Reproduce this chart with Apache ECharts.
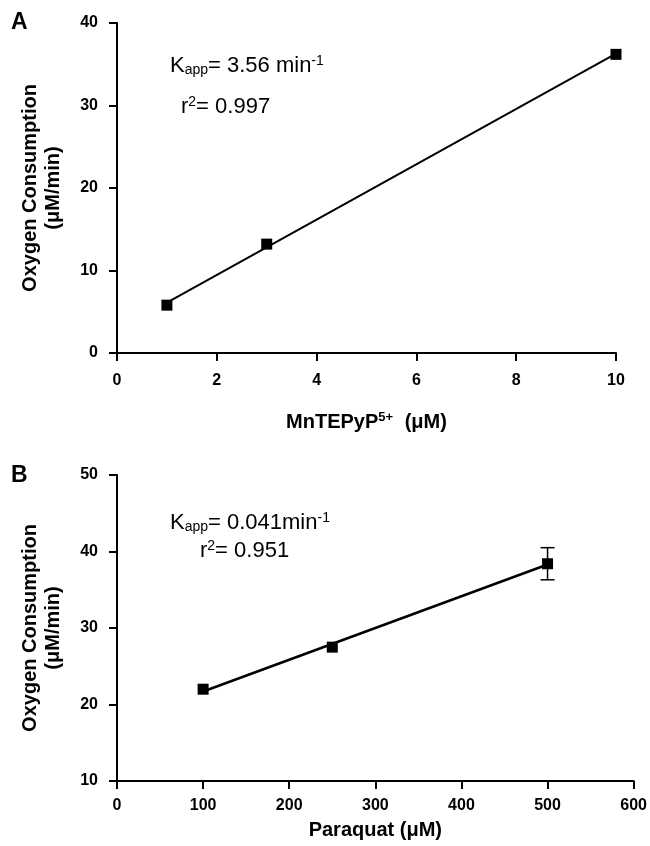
<!DOCTYPE html>
<html><head><meta charset="utf-8">
<script src="https://cdn.jsdelivr.net/npm/echarts@6/dist/echarts.min.js"></script>
<style>html,body{margin:0;padding:0;background:#fff}#c{width:650px;height:846px}</style>
</head><body><div id="c"></div>
<script>
// Panel A data
const concA = [1, 3, 10];
const oxyA = [5.8, 13.2, 36.2];
const fitAx = [1, 10];
const fitAy = [6.1, 36.3];
// Panel B data
const concB = [100, 250, 500];
const oxyB = [22.0, 27.5, 38.4];
const errB = [0, 0, 2.1];
const fitBx = [100, 500];
const fitBy = [21.7, 38.3];

const FONT = "'Liberation Sans', Arial, sans-serif";
const chart = echarts.init(document.getElementById('c'), null, {renderer: 'canvas'});

function axisCommon(margin) {
  return {
    axisLine: {show: true, onZero: false, lineStyle: {color: '#000', width: 2}},
    axisTick: {show: true, inside: false, length: 8, lineStyle: {color: '#000', width: 2}},
    axisLabel: {color: '#000', fontWeight: 'bold', fontSize: 16, fontFamily: FONT, margin: margin},
    splitLine: {show: false}
  };
}
const nameStyle = {color: '#000', fontWeight: 'bold', fontSize: 20, fontFamily: FONT, lineHeight: 23,
  rich: {sup: {fontSize: 13, fontWeight: 'bold', color: '#000', fontFamily: FONT, verticalAlign: 'top', padding: [0, 6, 10, 0]}}};

function pairs(xs, ys) { return xs.map((x, i) => [x, ys[i]]); }

const supS = {fontSize: 14, fontFamily: FONT, verticalAlign: 'top', padding: [0, 0, 9, 0]};
const subS = {fontSize: 14, fontFamily: FONT, verticalAlign: 'bottom', padding: [9, 0, 0, 0]};

const option = {
  animation: false,
  backgroundColor: '#fff',
  grid: [
    {left: 117, right: 34, top: 23, bottom: 493, containLabel: false},
    {left: 117, right: 14, top: 475, bottom: 65, containLabel: false}
  ],
  xAxis: [
    Object.assign(axisCommon(20), {gridIndex: 0, type: 'value', min: 0, max: 10, interval: 2,
      name: 'MnTEPyP{sup|5+} (μM)', nameLocation: 'middle', nameGap: 58, nameTextStyle: nameStyle}),
    Object.assign(axisCommon(17), {gridIndex: 1, type: 'value', min: 0, max: 600, interval: 100,
      name: 'Paraquat (μM)', nameLocation: 'middle', nameGap: 38, nameTextStyle: nameStyle})
  ],
  yAxis: [
    Object.assign(axisCommon(19), {gridIndex: 0, type: 'value', min: 0, max: 40, interval: 10,
      name: 'Oxygen Consumption\n(μM/min)', nameLocation: 'middle', nameGap: 52, nameRotate: 90, nameTextStyle: nameStyle}),
    Object.assign(axisCommon(19), {gridIndex: 1, type: 'value', min: 10, max: 50, interval: 10,
      name: 'Oxygen Consumption\n(μM/min)', nameLocation: 'middle', nameGap: 52, nameRotate: 90, nameTextStyle: nameStyle})
  ],
  series: [
    {type: 'line', xAxisIndex: 0, yAxisIndex: 0, data: pairs(fitAx, fitAy), symbol: 'none',
      lineStyle: {color: '#000', width: 2}, z: 2},
    {type: 'scatter', xAxisIndex: 0, yAxisIndex: 0, data: pairs(concA, oxyA), symbol: 'rect', symbolSize: 11,
      itemStyle: {color: '#000', opacity: 1}, z: 4},
    {type: 'line', xAxisIndex: 1, yAxisIndex: 1, data: pairs(fitBx, fitBy), symbol: 'none',
      lineStyle: {color: '#000', width: 2.5}, z: 2},
    {type: 'custom', xAxisIndex: 1, yAxisIndex: 1, z: 3,
      data: concB.map((x, i) => [x, oxyB[i], errB[i]]),
      encode: {x: 0, y: 1},
      renderItem: function (params, api) {
        const x = api.value(0), y = api.value(1), e = api.value(2);
        if (!e) return null;
        const t = api.coord([x, y + e]), b = api.coord([x, y - e]);
        const hw = 7, st = {stroke: '#000', lineWidth: 1.5};
        return {type: 'group', children: [
          {type: 'line', shape: {x1: t[0], y1: t[1], x2: b[0], y2: b[1]}, style: st},
          {type: 'line', shape: {x1: t[0] - hw, y1: t[1], x2: t[0] + hw, y2: t[1]}, style: st},
          {type: 'line', shape: {x1: b[0] - hw, y1: b[1], x2: b[0] + hw, y2: b[1]}, style: st}
        ]};
      }},
    {type: 'scatter', xAxisIndex: 1, yAxisIndex: 1, data: pairs(concB, oxyB), symbol: 'rect', symbolSize: 11,
      itemStyle: {color: '#000', opacity: 1}, z: 4}
  ],
  graphic: [
    {type: 'text', left: 11, top: 11, style: {text: 'A', font: 'bold 23px ' + FONT, fill: '#000'}},
    {type: 'text', left: 11, top: 464, style: {text: 'B', font: 'bold 23px ' + FONT, fill: '#000'}},
    {type: 'text', left: 170, top: 54, style: {text: 'K{sub|app}= 3.56 min{sup|-1}', font: '22px ' + FONT, fill: '#000',
      rich: {sub: subS, sup: supS}}},
    {type: 'text', left: 181, top: 95, style: {text: 'r{sup|2}= 0.997', font: '22px ' + FONT, fill: '#000',
      rich: {sup: supS}}},
    {type: 'text', left: 170, top: 511, style: {text: 'K{sub|app}= 0.041min{sup|-1}', font: '22px ' + FONT, fill: '#000',
      rich: {sub: subS, sup: supS}}},
    {type: 'text', left: 200, top: 539, style: {text: 'r{sup|2}= 0.951', font: '22px ' + FONT, fill: '#000',
      rich: {sup: supS}}}
  ]
};
chart.setOption(option);
</script></body></html>
